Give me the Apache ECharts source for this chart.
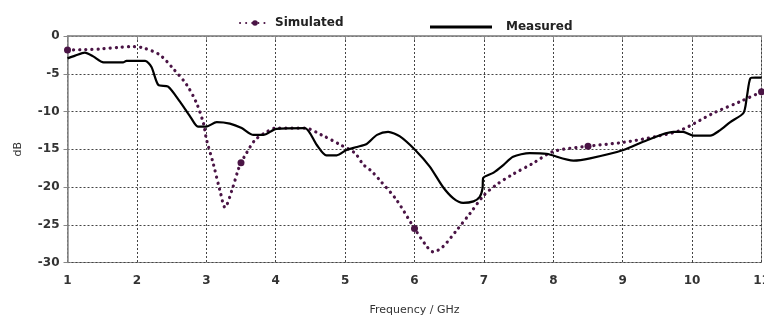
<!DOCTYPE html>
<html><head><meta charset="utf-8">
<script src="https://cdn.jsdelivr.net/npm/echarts@6/dist/echarts.min.js"></script>
<style>html,body{margin:0;padding:0;background:#fff}#c{width:764px;height:320px}</style>
</head><body><div id="c"></div>
<script>
const simX = [1.0,1.25,1.5,1.75,1.95,2.1,2.33,2.52,2.72,2.86,2.96,3.0,3.1,3.2,3.27,3.37,3.46,3.5,3.56,3.7,3.87,4.0,4.42,4.66,4.93,5.14,5.26,5.38,5.5,5.74,6.0,6.18,6.27,6.41,6.61,6.8,7.0,7.18,7.42,7.7,8.0,8.5,9.0,9.49,9.83,10.31,10.69,11.0];
const simY = [-1.85,-1.8,-1.7,-1.5,-1.4,-1.6,-2.5,-4.3,-6.5,-8.9,-11.6,-13.6,-16.9,-20.6,-22.7,-20.4,-17.7,-16.8,-15.8,-13.8,-12.7,-12.2,-12.2,-13.1,-14.4,-15.5,-17.0,-17.9,-19.1,-21.7,-25.5,-27.9,-28.6,-27.9,-25.7,-23.5,-21.1,-19.7,-18.3,-16.9,-15.3,-14.6,-14.1,-13.3,-12.5,-10.2,-8.7,-7.4];
const simMarkerX = [1.0,3.5,6.0,8.5,11.0];
const measX = [1.0,1.11,1.25,1.37,1.52,1.80,1.85,2.12,2.21,2.31,2.45,2.62,2.77,2.88,3.0,3.15,3.34,3.51,3.68,3.82,4.01,4.42,4.59,4.73,4.88,5.02,5.17,5.31,5.46,5.62,5.79,6.01,6.22,6.41,6.56,6.70,6.85,6.94,6.98,6.99,7.14,7.28,7.42,7.66,7.90,8.29,8.53,9.01,9.35,9.73,9.87,10.02,10.26,10.40,10.55,10.74,10.79,10.84,10.91,11.0];
const measY = [-2.96,-2.6,-2.2,-2.7,-3.5,-3.5,-3.3,-3.3,-4.1,-6.5,-6.7,-8.7,-10.7,-12.0,-12.0,-11.4,-11.6,-12.2,-13.1,-13.1,-12.3,-12.2,-14.4,-15.8,-15.8,-15.1,-14.7,-14.3,-13.1,-12.7,-13.3,-15.1,-17.3,-20.0,-21.5,-22.1,-21.9,-21.3,-20.2,-18.8,-18.1,-17.1,-16.0,-15.5,-15.6,-16.5,-16.2,-15.1,-13.8,-12.7,-12.7,-13.2,-13.2,-12.5,-11.4,-10.2,-8.0,-5.6,-5.5,-5.5];
const xTicks = {min:1, max:11, interval:1};
const yTicks = {min:-30, max:0, interval:5};
const seriesNames = ['Simulated','Measured'];
const xName = 'Frequency / GHz';
const yName = 'dB';

const simData = simX.map((x,i)=>[x,simY[i]]);
const measData = measX.map((x,i)=>[x,measY[i]]);
const chart = echarts.init(document.getElementById('c'), null, {renderer:'canvas'});
const lblFont = {fontFamily:'DejaVu Sans', fontSize:12, color:'#333', fontWeight:'bold'};
chart.setOption({
  animation:false,
  backgroundColor:'#fff',
  legend:[
    {data:[seriesNames[0]], left:234, top:12, itemWidth:30, itemHeight:7,
     textStyle:{fontFamily:'DejaVu Sans', fontSize:12, fontWeight:'bold', color:'#222'}},
    {data:[{name:seriesNames[1], icon:'rect'}], left:425, top:16, itemWidth:62, itemHeight:3,
     itemStyle:{color:'#000'},
     textStyle:{fontFamily:'DejaVu Sans', fontSize:12, fontWeight:'bold', color:'#222', padding:[0,0,0,9]}}
  ],
  grid:{left:67.5, right:2.5, top:36, bottom:57.5, show:true, borderColor:'#999', borderWidth:1,
    containLabel:false, outerBoundsMode:'none'},
  xAxis:{type:'value', min:xTicks.min, max:xTicks.max, interval:xTicks.interval,
    name:xName, nameLocation:'middle', nameGap:42,
    nameTextStyle:{fontFamily:'DejaVu Sans', fontSize:11, color:'#333'},
    axisLine:{show:true, lineStyle:{color:'#888', width:1.5}},
    axisTick:{show:true, length:4, lineStyle:{color:'#888'}},
    axisLabel:Object.assign({margin:12}, lblFont),
    splitLine:{show:true, lineStyle:{type:[2,2], color:'#444', width:1}}},
  yAxis:{type:'value', min:yTicks.min, max:yTicks.max, interval:yTicks.interval,
    name:yName, nameLocation:'middle', nameGap:44, nameRotate:90,
    nameTextStyle:{fontFamily:'DejaVu Sans', fontSize:11, color:'#333'},
    axisLine:{show:true, lineStyle:{color:'#888', width:1.5}},
    axisTick:{show:true, length:4, lineStyle:{color:'#888'}},
    axisLabel:Object.assign({margin:8}, lblFont),
    splitLine:{show:true, lineStyle:{type:[2,2], color:'#444', width:1}}},
  series:[
    {name:seriesNames[0], type:'line', data:simData, smooth:0.3,
     symbol:'circle', showSymbol:true,
     symbolSize:(v)=> simMarkerX.includes(v[0]) ? 7 : 0,
     itemStyle:{color:'#4a1445'},
     lineStyle:{color:'#4a1445', width:3.2, type:[0.1,6], cap:'round'}, z:3},
    {name:seriesNames[1], type:'line', data:measData, smooth:0.25, showSymbol:false, symbol:'none',
     itemStyle:{color:'#000'},
     lineStyle:{color:'#000', width:2.2}, z:4}
  ]
});
</script></body></html>
